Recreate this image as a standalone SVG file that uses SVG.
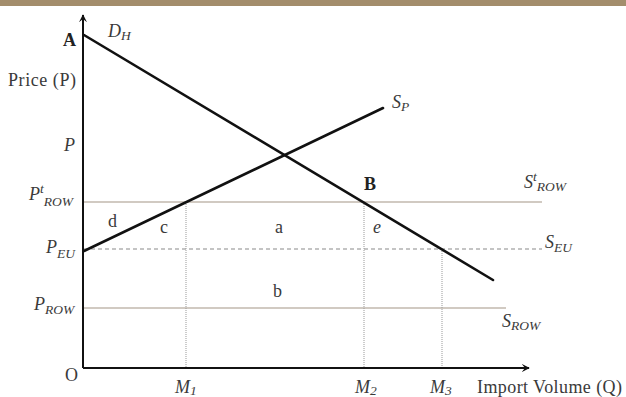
<svg xmlns="http://www.w3.org/2000/svg" width="626" height="397" viewBox="0 0 626 397">
<style>
text{font-family:"Liberation Serif","Times New Roman",serif;fill:#3a3a3a;font-size:18px}
.it{font-style:italic}
.sub{font-size:13.5px;font-style:italic}
.b{font-weight:bold;fill:#222}
.thick{stroke:#111;stroke-width:2.6;fill:none;stroke-linecap:round}
.axis{stroke:#111;stroke-width:2;fill:none}
.hl{stroke:#a39585;stroke-width:1.2;fill:none}
.dash{stroke:#8a8a8a;stroke-width:1.2;stroke-dasharray:4 3;fill:none}
.dot{stroke:#999;stroke-width:1;stroke-dasharray:1 1;fill:none}
</style>
<defs>
<marker id="arr" viewBox="0 0 10 10" refX="9" refY="5" markerWidth="8" markerHeight="8" orient="auto" markerUnits="userSpaceOnUse">
<path d="M0,0 L10,5 L0,10 L4,5 Z" fill="#111"/>
</marker>
</defs>
<rect x="0" y="0" width="626" height="396" fill="#fff"/>
<rect x="0" y="0" width="626" height="6" fill="#a38d6c"/>
<g id="connectors">
<line class="hl" x1="84" y1="202" x2="542" y2="202"/>
<line class="dash" x1="84" y1="249" x2="542" y2="249"/>
<line class="hl" x1="84" y1="308" x2="506" y2="308"/>
<line class="dot" x1="186" y1="202" x2="186" y2="368"/>
<line class="dot" x1="364" y1="202" x2="364" y2="368"/>
<line class="dot" x1="442" y1="249" x2="442" y2="368"/>
<line class="axis" x1="83" y1="368" x2="83" y2="15" marker-end="url(#arr)"/>
<line class="axis" x1="83" y1="368" x2="529" y2="368" marker-end="url(#arr)"/>
<line class="thick" x1="84" y1="35" x2="493" y2="280"/>
<line class="thick" x1="84" y1="251" x2="383" y2="108"/>
</g>
<g id="labels">
<text class="b" x="63" y="46">A</text>
<text class="it" x="108" y="37">D<tspan class="sub" dy="3">H</tspan></text>
<text x="8" y="86" textLength="68" lengthAdjust="spacing">Price (P)</text>
<text class="it" x="64" y="151">P</text>
<text class="it" x="29" y="200">P<tspan class="sub" dy="-7">t</tspan><tspan class="sub" dy="13">ROW</tspan></text>
<text class="it" x="46" y="253">P<tspan class="sub" dy="5">EU</tspan></text>
<text class="it" x="34" y="310">P<tspan class="sub" dy="4">ROW</tspan></text>
<text x="65" y="381">O</text>
<text class="it" x="175" y="393">M<tspan class="sub" dy="2">1</tspan></text>
<text class="it" x="355" y="393">M<tspan class="sub" dy="2">2</tspan></text>
<text class="it" x="430" y="393">M<tspan class="sub" dy="2">3</tspan></text>
<text x="477" y="393" textLength="145" lengthAdjust="spacing">Import Volume (Q)</text>
<text class="it" x="392" y="108">S<tspan class="sub" dy="3">P</tspan></text>
<text class="b" x="364" y="190">B</text>
<text class="it" x="524" y="188">S<tspan class="sub" dy="-7">t</tspan><tspan class="sub" dy="10">ROW</tspan></text>
<text class="it" x="545" y="248">S<tspan class="sub" dy="4">EU</tspan></text>
<text class="it" x="502" y="327">S<tspan class="sub" dy="3">ROW</tspan></text>
<text x="108" y="227">d</text>
<text x="160" y="233">c</text>
<text x="275" y="233">a</text>
<text class="it" x="373" y="233">e</text>
<text x="273" y="297">b</text>
</g>
</svg>
